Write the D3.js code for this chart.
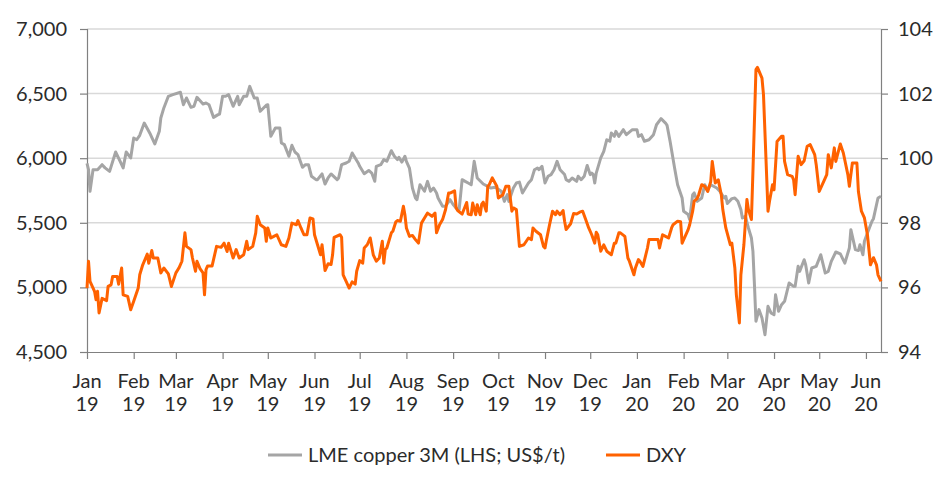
<!DOCTYPE html>
<html>
<head>
<meta charset="utf-8">
<script src="https://cdn.jsdelivr.net/npm/d3@7"></script>
<style>
  html, body { margin: 0; padding: 0; background: #ffffff; }
  svg { display: block; }
  text { font-family: Lato, "Open Sans", sans-serif; fill: #2b2b2b; }
</style>
</head>
<body>
<svg id="chart" width="952" height="491"></svg>
<script>
// ---------------- DATA ----------------
const copperDates = [
"2019-01-01","2019-01-02","2019-01-03","2019-01-05","2019-01-08","2019-01-11","2019-01-13","2019-01-16","2019-01-20","2019-01-23","2019-01-25","2019-01-27","2019-01-30","2019-02-01","2019-02-03","2019-02-05","2019-02-08","2019-02-12","2019-02-15","2019-02-18","2019-02-19","2019-02-21","2019-02-24","2019-02-27",
"2019-03-04","2019-03-06","2019-03-08","2019-03-11","2019-03-13","2019-03-15","2019-03-19","2019-03-21","2019-03-23","2019-03-26","2019-03-29","2019-03-30","2019-04-01","2019-04-03","2019-04-05","2019-04-08","2019-04-11","2019-04-12","2019-04-15","2019-04-17","2019-04-19","2019-04-22","2019-04-24","2019-04-25","2019-04-26","2019-04-30",
"2019-05-01","2019-05-03","2019-05-06","2019-05-09","2019-05-10","2019-05-12","2019-05-15","2019-05-17","2019-05-19","2019-05-21","2019-05-24","2019-05-26","2019-05-28","2019-05-30","2019-06-02","2019-06-03","2019-06-06","2019-06-08","2019-06-10","2019-06-12","2019-06-16","2019-06-17","2019-06-19","2019-06-22","2019-06-24","2019-06-26",
"2019-06-30","2019-07-01","2019-07-04","2019-07-07","2019-07-09","2019-07-11","2019-07-12","2019-07-15","2019-07-17","2019-07-19","2019-07-22","2019-07-24","2019-07-26","2019-07-27","2019-07-29","2019-07-31",
"2019-08-01","2019-08-03","2019-08-05","2019-08-07","2019-08-08","2019-08-10","2019-08-13","2019-08-15","2019-08-17","2019-08-19","2019-08-21","2019-08-22","2019-08-25","2019-08-27","2019-08-30","2019-09-01","2019-09-03","2019-09-05","2019-09-07","2019-09-09","2019-09-11","2019-09-13","2019-09-15","2019-09-17","2019-09-21","2019-09-24","2019-09-26","2019-09-29",
"2019-10-03","2019-10-05","2019-10-07","2019-10-08","2019-10-11","2019-10-13","2019-10-15","2019-10-17","2019-10-21","2019-10-23","2019-10-25","2019-10-27","2019-10-28","2019-10-30","2019-11-01","2019-11-03","2019-11-05","2019-11-07","2019-11-09","2019-11-11","2019-11-14",
"2019-11-15","2019-11-17","2019-11-19","2019-11-22","2019-11-23","2019-11-25","2019-11-27","2019-11-29","2019-12-01","2019-12-02","2019-12-03","2019-12-04","2019-12-05","2019-12-08","2019-12-10","2019-12-12","2019-12-14","2019-12-15","2019-12-17","2019-12-18","2019-12-20","2019-12-23","2019-12-25","2019-12-29","2019-12-30",
"2020-01-01","2020-01-02","2020-01-04","2020-01-06","2020-01-09","2020-01-12","2020-01-14","2020-01-17","2020-01-20","2020-01-21","2020-01-23","2020-01-26","2020-01-28","2020-01-31","2020-02-01","2020-02-04","2020-02-05","2020-02-07","2020-02-08","2020-02-10","2020-02-13","2020-02-15","2020-02-17","2020-02-19","2020-02-23","2020-02-25","2020-02-28","2020-02-29",
"2020-03-01","2020-03-04","2020-03-06","2020-03-08","2020-03-10","2020-03-11","2020-03-13","2020-03-15","2020-03-17","2020-03-18","2020-03-19","2020-03-20","2020-03-22","2020-03-24","2020-03-26","2020-03-28","2020-03-30","2020-04-01","2020-04-02","2020-04-04","2020-04-06","2020-04-08","2020-04-11","2020-04-14","2020-04-15","2020-04-17","2020-04-18","2020-04-21","2020-04-22","2020-04-24","2020-04-26","2020-04-29",
"2020-05-02","2020-05-05","2020-05-07","2020-05-09","2020-05-12","2020-05-15","2020-05-18","2020-05-21","2020-05-22","2020-05-25","2020-05-27","2020-05-28","2020-05-30","2020-05-31","2020-06-02","2020-06-05","2020-06-06","2020-06-09","2020-06-11"
];
const copperValues = [
5960,5911,5744,5911,5911,5950,5925,5898,6048,5976,5925,6048,6002,6156,6143,6177,6272,6187,6110,6208,6311,6389,6479,6492,
6510,6414,6466,6394,6402,6471,6419,6427,6414,6316,6337,6342,6479,6479,6492,6402,6479,6414,6479,6479,6556,6466,6466,6414,6363,6410,
6414,6169,6234,6234,6118,6105,6015,6100,6048,6028,5930,5950,5950,5860,5834,5834,5878,5800,5847,5878,5834,5847,5950,5963,5976,6040,
5963,5937,5880,5905,5885,5821,5937,5950,5989,5976,6058,6015,5989,6007,5970,6015,
5976,5924,5769,5692,5679,5795,5744,5821,5744,5769,5731,5692,5628,5628,5679,5641,5615,5603,5834,5821,5808,5795,5976,5847,5800,5782,5769,5775,
5744,5666,5718,5666,5769,5808,5815,5731,5808,5834,5911,5924,5911,5937,5808,5860,5873,5911,5976,5911,5873,
5834,5821,5847,5821,5860,5834,5860,5944,5873,5885,5873,5808,5885,6002,6053,6143,6131,6195,6169,6208,6169,6221,6182,6221,6221,
6221,6169,6182,6131,6143,6182,6259,6306,6272,6254,6131,5924,5795,5692,5589,5564,5524,5718,5731,5666,5692,5795,5756,5795,5769,5744,5692,5705,5650,
5687,5692,5666,5602,5537,5550,5460,5382,5279,5021,4738,4828,4763,4634,4854,4802,4789,4943,4815,4866,4892,5034,5008,5008,5163,5124,5214,5175,5034,5150,5163,5253,
5111,5124,5201,5274,5259,5188,5305,5447,5292,5285,5330,5253,5357,5421,5512,5532,5692,5705,5795
];

const dxyDates = [
"2019-01-01","2019-01-02","2019-01-03","2019-01-06","2019-01-07","2019-01-08","2019-01-09","2019-01-11","2019-01-14","2019-01-15","2019-01-17","2019-01-18","2019-01-21","2019-01-22","2019-01-24","2019-01-25","2019-01-28","2019-01-30","2019-02-01","2019-02-04","2019-02-05","2019-02-07","2019-02-10","2019-02-11","2019-02-13","2019-02-14","2019-02-17","2019-02-19","2019-02-21","2019-02-24","2019-02-26",
"2019-03-01","2019-03-03","2019-03-05","2019-03-07","2019-03-08","2019-03-11","2019-03-12","2019-03-14","2019-03-15","2019-03-17","2019-03-19","2019-03-20","2019-03-21","2019-03-22","2019-03-25","2019-03-28","2019-03-31","2019-04-02","2019-04-04","2019-04-05","2019-04-08","2019-04-10","2019-04-12","2019-04-15","2019-04-17","2019-04-18","2019-04-21","2019-04-23","2019-04-24","2019-04-26","2019-04-29","2019-04-30",
"2019-05-01","2019-05-03","2019-05-05","2019-05-07","2019-05-10","2019-05-13","2019-05-15","2019-05-17","2019-05-20","2019-05-21","2019-05-23","2019-05-25","2019-05-27","2019-05-29","2019-05-31","2019-06-01","2019-06-03","2019-06-05","2019-06-06","2019-06-08","2019-06-10","2019-06-12","2019-06-13","2019-06-14","2019-06-18","2019-06-19","2019-06-20","2019-06-22","2019-06-24","2019-06-26","2019-06-28","2019-06-29",
"2019-07-01","2019-07-03","2019-07-04","2019-07-06","2019-07-08","2019-07-10","2019-07-12","2019-07-14","2019-07-16","2019-07-17","2019-07-18","2019-07-19","2019-07-22","2019-07-23","2019-07-25","2019-07-26","2019-07-28","2019-07-30","2019-07-31",
"2019-08-01","2019-08-03","2019-08-05","2019-08-07","2019-08-09","2019-08-11","2019-08-13","2019-08-15","2019-08-18","2019-08-20","2019-08-21","2019-08-23","2019-08-25","2019-08-27","2019-08-29","2019-08-30",
"2019-09-02","2019-09-03","2019-09-04","2019-09-07","2019-09-10","2019-09-11","2019-09-13","2019-09-14","2019-09-16","2019-09-17","2019-09-19","2019-09-20","2019-09-21","2019-09-23","2019-09-24","2019-09-25","2019-09-27","2019-09-30",
"2019-10-01","2019-10-04","2019-10-06","2019-10-08","2019-10-10","2019-10-11","2019-10-13","2019-10-15","2019-10-18","2019-10-21","2019-10-23","2019-10-24","2019-10-26","2019-10-29","2019-10-31","2019-11-01","2019-11-02","2019-11-04","2019-11-06","2019-11-08","2019-11-09","2019-11-11","2019-11-13",
"2019-11-14","2019-11-15","2019-11-18","2019-11-20","2019-11-22","2019-11-24","2019-11-26","2019-11-28","2019-11-30","2019-12-02","2019-12-04","2019-12-05","2019-12-06","2019-12-08","2019-12-10","2019-12-12","2019-12-15","2019-12-17","2019-12-18","2019-12-20","2019-12-21","2019-12-24","2019-12-26","2019-12-27","2019-12-30","2019-12-31",
"2020-01-02","2020-01-03","2020-01-05","2020-01-08","2020-01-09","2020-01-12","2020-01-15","2020-01-16","2020-01-18","2020-01-20","2020-01-22","2020-01-24","2020-01-25","2020-01-28","2020-01-30","2020-01-31","2020-02-04","2020-02-05","2020-02-07","2020-02-08","2020-02-10","2020-02-11","2020-02-13","2020-02-15","2020-02-17","2020-02-19","2020-02-20","2020-02-22","2020-02-24","2020-02-26","2020-02-27","2020-02-29",
"2020-03-03","2020-03-04","2020-03-06","2020-03-07","2020-03-09","2020-03-10","2020-03-12","2020-03-14","2020-03-15","2020-03-17","2020-03-18","2020-03-20","2020-03-21","2020-03-24","2020-03-25","2020-03-28","2020-03-29","2020-03-31","2020-04-01","2020-04-03","2020-04-06","2020-04-07","2020-04-08","2020-04-10","2020-04-13","2020-04-14","2020-04-15","2020-04-17","2020-04-19","2020-04-21","2020-04-23","2020-04-25","2020-04-28","2020-04-29",
"2020-05-01","2020-05-04","2020-05-06","2020-05-07","2020-05-09","2020-05-11","2020-05-12","2020-05-15","2020-05-17","2020-05-20","2020-05-21","2020-05-23","2020-05-26","2020-05-27","2020-05-29","2020-05-31","2020-06-02","2020-06-04","2020-06-06","2020-06-08","2020-06-09","2020-06-11"
];
const dxyValues = [
95.98,96.81,96.19,95.88,95.62,95.88,95.21,95.66,95.59,96.03,96.08,96.34,96.34,96.10,96.60,95.77,95.72,95.31,95.57,95.98,96.39,96.70,97.03,96.75,97.14,96.91,96.91,96.45,96.60,96.42,96.03,
96.45,96.60,96.81,97.69,97.27,97.17,96.91,96.50,96.81,96.58,96.45,95.77,96.55,96.66,96.66,97.27,97.24,97.37,97.11,97.37,96.91,97.17,96.91,97.01,97.43,97.17,97.27,97.69,98.20,97.94,97.84,97.43,
97.84,97.53,97.58,97.63,97.32,97.27,97.53,97.99,97.94,98.07,97.84,97.63,97.63,98.15,98.12,97.63,97.32,97.01,97.32,96.52,96.73,96.71,97.01,97.55,97.63,97.55,96.39,96.19,95.98,96.17,96.10,96.50,
96.83,96.75,97.22,97.32,97.53,97.01,96.81,96.91,97.43,96.75,97.17,97.22,97.69,97.74,98.03,98.07,98.05,98.51,98.25,
97.84,97.58,97.61,97.48,97.37,97.99,98.15,98.30,98.20,98.30,97.69,97.94,98.10,98.41,98.92,98.92,
98.99,98.46,98.38,98.27,98.63,98.27,98.25,98.61,98.25,98.56,98.25,98.58,98.64,98.36,99.13,99.18,99.39,99.13,
98.77,98.87,99.13,99.13,98.36,98.46,98.41,97.27,97.32,97.53,97.48,97.84,97.74,97.63,97.27,97.22,97.48,97.94,98.36,98.25,98.36,98.25,98.38,
98.05,97.79,97.97,98.29,98.27,98.33,98.36,98.10,97.84,97.63,97.37,97.71,97.63,97.12,97.32,97.12,97.01,97.37,97.37,97.69,97.69,97.58,96.91,96.81,96.39,96.60,
96.86,96.81,96.65,97.22,97.48,97.48,97.48,97.22,97.63,97.58,97.53,97.84,97.94,98.05,98.03,97.37,97.79,97.94,98.36,98.67,98.75,98.87,99.18,99.13,98.97,99.28,99.90,99.23,99.33,98.87,98.41,97.84,
97.32,97.37,96.60,95.77,94.90,96.39,97.32,98.72,98.41,98.10,99.59,102.74,102.81,102.48,101.97,98.36,98.67,99.18,99.02,100.52,100.68,100.68,99.90,99.49,99.44,99.33,98.87,100.06,99.80,99.92,100.37,100.42,100.11,99.80,
98.97,99.28,99.49,100.11,99.70,100.32,99.90,100.44,100.16,99.49,99.13,99.85,99.85,98.97,98.36,98.15,97.63,96.70,96.92,96.70,96.39,96.19
];

const leftTicks = [4500, 5000, 5500, 6000, 6500, 7000];
const rightTicks = [94, 96, 98, 100, 102, 104];
const monthTicks = ["2019-01-01","2019-02-01","2019-03-01","2019-04-01","2019-05-01","2019-06-01","2019-07-01","2019-08-01","2019-09-01","2019-10-01","2019-11-01","2019-12-01","2020-01-01","2020-02-01","2020-03-01","2020-04-01","2020-05-01","2020-06-01"];
const seriesNames = ["LME copper 3M (LHS; US$/t)", "DXY"];
const xDomain = ["2019-01-01", "2020-06-11"];

// ---------------- CHART ----------------
const parse = d3.timeParse("%Y-%m-%d");
const L = 87, R = 881, T = 29, B = 352;
const colors = ["#A5A5A5", "#FF6200"];
const svg = d3.select("#chart");

const x = d3.scaleTime().domain(xDomain.map(parse)).range([L, R]);
const yL = d3.scaleLinear().domain([4500, 7000]).range([B, T]);
const yR = d3.scaleLinear().domain([94, 104]).range([B, T]);

// gridlines
svg.append("g").selectAll("line")
  .data(leftTicks.filter(d => d > 4500))
  .join("line")
  .attr("x1", L).attr("x2", R)
  .attr("y1", d => yL(d)).attr("y2", d => yL(d))
  .attr("stroke", "#D9D9D9").attr("stroke-width", 1.5);

// axes
const axL = svg.append("g").attr("transform", `translate(${L},0)`)
  .call(d3.axisLeft(yL).tickValues(leftTicks).tickFormat(d3.format(",")).tickSize(7).tickPadding(13));
const axR = svg.append("g").attr("transform", `translate(${R},0)`)
  .call(d3.axisRight(yR).tickValues(rightTicks).tickFormat(d3.format("d")).tickSize(7).tickPadding(10));
const axB = svg.append("g").attr("transform", `translate(0,${B})`)
  .call(d3.axisBottom(x).tickValues(monthTicks.map(parse)).tickSize(7).tickFormat(""));

[axL, axR, axB].forEach(a => {
  a.select(".domain").attr("stroke", "#808080").attr("stroke-width", 1.2);
  a.selectAll(".tick line").attr("stroke", "#808080").attr("stroke-width", 1.2);
  a.selectAll(".tick text").attr("font-family", "Lato, sans-serif").attr("font-size", 20).attr("fill", "#2b2b2b");
});
axB.select(".domain").attr("d", `M${L},0.5H${R}`);

// two-line month labels
const mfmt = d3.timeFormat("%b"), yfmt = d3.timeFormat("%y");
const lbl = svg.append("g").attr("font-size", 20).attr("text-anchor", "middle");
monthTicks.map(parse).forEach(d => {
  lbl.append("text").attr("x", x(d)).attr("y", 388).text(mfmt(d));
  lbl.append("text").attr("x", x(d)).attr("y", 411).text(yfmt(d));
});

// lines
const copper = copperDates.map((d, i) => ({ date: parse(d), v: copperValues[i] }));
const dxy = dxyDates.map((d, i) => ({ date: parse(d), v: dxyValues[i] }));

svg.append("path").datum(copper)
  .attr("fill", "none").attr("stroke", colors[0]).attr("stroke-width", 3)
  .attr("stroke-linejoin", "round")
  .attr("d", d3.line().x(d => x(d.date)).y(d => yL(d.v)));
svg.append("path").datum(dxy)
  .attr("fill", "none").attr("stroke", colors[1]).attr("stroke-width", 3)
  .attr("stroke-linejoin", "round")
  .attr("d", d3.line().x(d => x(d.date)).y(d => yR(d.v)));

// legend
const legendItems = [
  { name: seriesNames[0], color: colors[0], x: 268 },
  { name: seriesNames[1], color: colors[1], x: 606 }
];
const lg = svg.append("g");
legendItems.forEach(it => {
  lg.append("line").attr("x1", it.x).attr("x2", it.x + 34).attr("y1", 455).attr("y2", 455)
    .attr("stroke", it.color).attr("stroke-width", 3);
  lg.append("text").attr("x", it.x + 40).attr("y", 462).attr("font-size", 20).text(it.name);
});
</script>
</body>
</html>
